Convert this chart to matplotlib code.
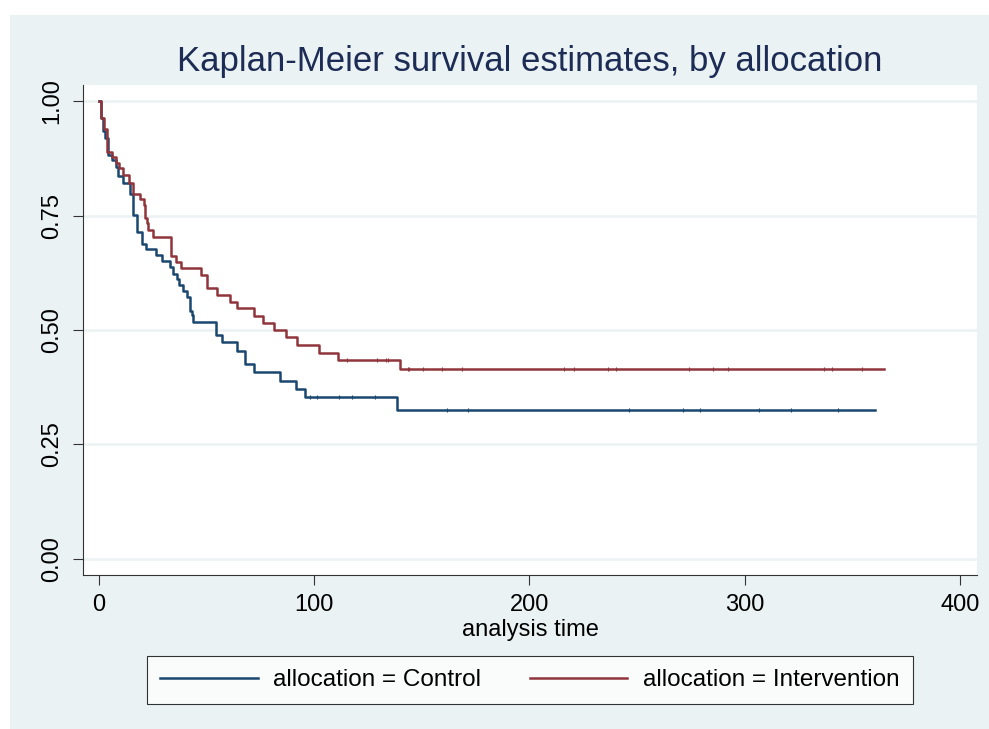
import numpy as np
import matplotlib
matplotlib.use("Agg")
import matplotlib.pyplot as plt
from matplotlib.patches import Rectangle

plt.rcParams["font.family"] = ["Liberation Sans", "DejaVu Sans"]

# Kaplan-Meier step estimates
control_times = [1.0, 2.0, 3.0, 4.0, 6.2, 7.8, 9.0, 11.0, 14.4, 15.8, 17.8, 20.1,
                 21.8, 26.3, 29.1, 33.0, 34.5, 36.1, 37.3, 39.2, 41.0, 42.3, 43.1,
                 43.8, 54.4, 57.0, 64.3, 67.8, 72.0, 84.1, 91.4, 95.9, 138.3]
control_surv = [0.963, 0.934, 0.919, 0.882, 0.871, 0.857, 0.836, 0.822, 0.798, 0.751,
                0.714, 0.688, 0.676, 0.664, 0.651, 0.637, 0.622, 0.611, 0.598, 0.585,
                0.571, 0.542, 0.533, 0.518, 0.489, 0.473, 0.455, 0.426, 0.408, 0.389,
                0.371, 0.353, 0.325]
control_end = 360.5
control_censored = [98.0, 101.1, 111.6, 117.4, 128.2, 161.5, 171.6, 246.4, 271.5,
                    279.2, 306.6, 321.3, 343.2]

interv_times = [1.1, 2.3, 3.9, 5.9, 7.9, 9.3, 11.3, 14.1, 15.7, 19.0, 20.9, 21.5,
                22.2, 22.9, 24.9, 33.3, 35.8, 38.1, 47.2, 50.3, 55.0, 60.9, 64.0,
                72.0, 76.1, 81.3, 87.0, 91.8, 102.3, 111.2, 139.8]
interv_surv = [0.962, 0.940, 0.888, 0.878, 0.864, 0.854, 0.838, 0.822, 0.798, 0.786,
               0.773, 0.745, 0.734, 0.718, 0.702, 0.661, 0.649, 0.635, 0.620, 0.592,
               0.576, 0.562, 0.547, 0.531, 0.516, 0.500, 0.485, 0.467, 0.450, 0.434,
               0.414]
interv_end = 364.7
interv_censored = [115.1, 129.3, 133.3, 134.4, 143.7, 144.2, 150.4, 159.5, 168.5,
                   216.2, 220.9, 236.3, 240.2, 274.1, 285.3, 292.3, 336.6, 340.5, 354.5]

group_labels = ["allocation = Control", "allocation = Intervention"]
y_ticks = [0.0, 0.25, 0.50, 0.75, 1.00]
x_ticks = [0, 100, 200, 300, 400]

navy = "#1A476F"
maroon = "#90353B"
bg = "#EAF2F3"

fig = plt.figure(figsize=(9.89, 7.29), dpi=100, facecolor="white")
# Stata-style graph region background
fig.patches.append(Rectangle((10 / 989, 0), 1, (729 - 15) / 729,
                             transform=fig.transFigure, facecolor=bg,
                             edgecolor="none", zorder=-10))

ax = fig.add_axes([83 / 989, 154 / 729, 894 / 989, 490 / 729])
ax.set_facecolor("white")


def step_arrays(times, surv, end):
    t = np.concatenate([[0.0], times, [end]])
    s = np.concatenate([[1.0], surv, [surv[-1]]])
    return t, s


def surv_at(times, surv, points):
    t, s = step_arrays(times, surv, times[-1])
    idx = np.searchsorted(t, points, side="right") - 1
    return s[idx]


groups = [
    (control_times, control_surv, control_end, control_censored, navy, group_labels[0]),
    (interv_times, interv_surv, interv_end, interv_censored, maroon, group_labels[1]),
]
for times, surv, end, cens, color, label in groups:
    t, s = step_arrays(times, surv, end)
    ax.step(t, s, where="post", color=color, lw=1.8, label=label, zorder=3)
    # censored observations: tiny ticks sitting on the curve
    ax.plot(cens, surv_at(times, surv, np.array(cens)), linestyle="none",
            marker="|", markersize=2.8, markeredgewidth=0.8, color=color, zorder=3)

ax.set_xlim(-7.4, 407.9)
ax.set_ylim(-0.035, 1.035)
ax.set_yticks(y_ticks)
ax.set_yticklabels([f"{v:.2f}" for v in y_ticks], rotation=90, va="center")
ax.set_xticks(x_ticks)
ax.grid(axis="y", color=bg, lw=1.8, zorder=0)
ax.set_axisbelow(True)
ax.tick_params(axis="both", labelsize=17, length=7, width=0.8, pad=7, color="#333333")

for side in ["top", "right"]:
    ax.spines[side].set_visible(False)
for side in ["left", "bottom"]:
    ax.spines[side].set_color("#333333")
    ax.spines[side].set_linewidth(0.8)

ax.set_xlabel("analysis time", fontsize=17, labelpad=2)

fig.text(530 / 989, (729 - 62) / 729, "Kaplan-Meier survival estimates, by allocation",
         ha="center", va="center", fontsize=25, color="#1C2C55")

leg = fig.legend(loc="center", bbox_to_anchor=(530 / 989, (729 - 680) / 729), ncol=2,
                 fontsize=17.5, frameon=True, fancybox=False, edgecolor="black",
                 handlelength=4.0, handletextpad=0.65, columnspacing=2.0,
                 borderpad=0.55, borderaxespad=0)
leg.get_frame().set_linewidth(0.8)
leg.get_frame().set_facecolor("white")
for line in leg.get_lines():
    line.set_linewidth(1.8)

fig.savefig("out.png", dpi=100, facecolor="white")
